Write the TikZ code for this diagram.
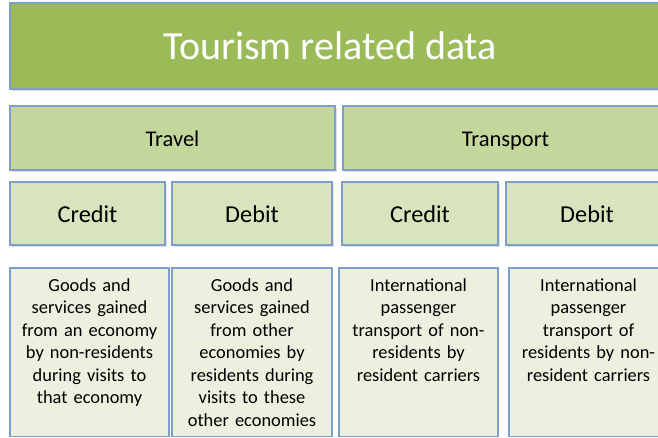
\documentclass[tikz,border=0pt]{standalone}
\usepackage{fontspec}
\setmainfont{Carlito}
\usetikzlibrary{positioning,shadows}
\definecolor{titlegreen}{HTML}{9BBB59}
\definecolor{groupgreen}{HTML}{C3D69B}
\definecolor{sidegreen}{HTML}{D7E4BD}
\definecolor{notegreen}{HTML}{EBF1DE}
\definecolor{edgeblue}{HTML}{7E9ECC}
\tikzset{
	box/.style={draw=edgeblue, line width=1.1pt, inner sep=0pt,
		drop shadow={shadow xshift=1.5pt, shadow yshift=-2pt, opacity=0.25}},
	titlebox/.style={box, fill=titlegreen, minimum width=658pt, minimum height=86pt},
	groupbox/.style={box, fill=groupgreen, minimum width=325pt, minimum height=64pt,
		text height=16pt, text depth=0pt, font=\fontsize{22.5}{26}\selectfont},
	sidebox/.style={box, fill=sidegreen, minimum height=63pt,
		text height=17.6pt, text depth=0pt, font=\fontsize{24.3}{28}\selectfont},
	notebox/.style={draw=edgeblue, line width=1.1pt, fill=notegreen, inner sep=0pt,
		minimum width=159pt, minimum height=168.5pt},
	notetext/.style={inner sep=0pt, text width=155pt, align=center,
		font=\fontsize{18.4}{22.5}\selectfont}
}

\begin{document}
\begin{tikzpicture}[x=1pt, y=-1pt]
			%%%%% START %%%%%
			\useasboundingbox (0, 0) rectangle (658, 437);
			\fill[white] (0, 0) rectangle (658, 437);
			
			% title
			\node[titlebox] (title) at (339, 46) {};
			\node[text=white, font=\fontsize{40}{46}\selectfont] (titletext) at (330, 46) {Tourism related data};
			
			% groups
			\node[groupbox] (travel) at (172.5, 138) {Travel};
			\node[groupbox] (transport) at (505.5, 138) {Transport};
			
			% credit / debit
			\node[sidebox, minimum width=155pt] (travelcr) at (87.5, 213.5) {Credit};
			\node[sidebox, minimum width=160pt] (traveldb) at (252, 213.5) {Debit};
			\node[sidebox, minimum width=156pt] (transcr) at (420, 213.5) {Credit};
			\node[sidebox, minimum width=162pt] (transdb) at (587, 213.5) {Debit};
			
			% notes
			\node[notebox] (travelcrnote) at (89.5, 352.25) {};
			\node[notebox, minimum width=160pt] (traveldbnote) at (252, 352.25) {};
			\node[notebox] (transcrnote) at (418.5, 352.25) {};
			\node[notebox] (transdbnote) at (588.5, 352.25) {};
			
			\node[notetext, below=11pt of travelcrnote.north] (travelcrtext)
				{Goods and\\services gained\\from an economy\\by non-residents\\during visits to\\that economy};
			\node[notetext, below=11pt of traveldbnote.north] (traveldbtext)
				{Goods and\\services gained\\from other\\economies by\\residents during\\visits to these\\other economies};
			\node[notetext, below=11pt of transcrnote.north] (transcrtext)
				{International\\passenger\\transport of non-\\residents by\\resident carriers};
			\node[notetext, below=11pt of transdbnote.north] (transdbtext)
				{International\\passenger\\transport of\\residents by non-\\resident carriers};
			%%%%% END %%%%%
\end{tikzpicture}
\end{document}
